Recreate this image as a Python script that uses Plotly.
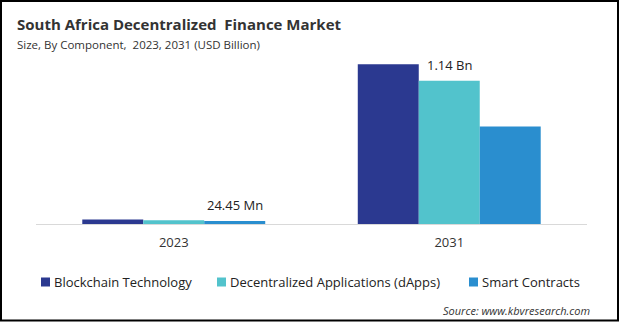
import plotly.graph_objects as go

years = ["2023", "2031"]
series_names = ["Blockchain Technology", "Decentralized Applications (dApps)", "Smart Contracts"]
blockchain = [0.036, 1.27]
dapps = [0.029, 1.14]
smart = [0.02445, 0.775]
# (series index, year index, label)
value_labels = [(2, 0, "24.45 Mn"), (1, 1, "1.14 Bn")]
colors = ["#2B3990", "#52C3CC", "#2A8ECF"]

W, H = 619, 322
L, R, T, B = 36, 32, 48, 98
PW, PH = W - L - R, H - T - B
BARGAP = 0.336

def px_x(px):
    return (px - L) / PW

def px_y(py):
    return (H - B - py) / PH

all_series = [blockchain, dapps, smart]
fig = go.Figure()
for name, vals, col in zip(series_names, all_series, colors):
    fig.add_trace(go.Bar(
        x=years, y=vals, name=name, marker=dict(color=col, line=dict(width=0)),
        hoverinfo="skip", showlegend=False,
    ))

# value labels above the chosen bars
bw = (1 - BARGAP) / len(all_series)
for si, yi, lab in value_labels:
    xoff = (si - (len(all_series) - 1) / 2) * bw
    fig.add_annotation(x=yi + xoff, y=all_series[si][yi], xref="x", yref="y", text=lab,
                       showarrow=False, yanchor="bottom", yshift=5,
                       font=dict(family="Open Sans, sans-serif", size=13, color="#222222"))

fig.update_layout(
    width=W, height=H,
    margin=dict(l=L, r=R, t=T, b=B),
    paper_bgcolor="white", plot_bgcolor="white",
    barmode="group", bargap=BARGAP, bargroupgap=0,
    showlegend=False,
    xaxis=dict(showline=True, linecolor="#D9D9D9", linewidth=1, ticks="",
               tickfont=dict(family="Open Sans, sans-serif", size=13, color="#333333"),
               showgrid=False, ticklabelstandoff=6),
    yaxis=dict(range=[0, 1.4], visible=False, showgrid=False, zeroline=False),
    font=dict(family="Open Sans, sans-serif"),
)

# legend drawn as squares + labels
legend_sq_x = [41, 217, 469]
for name, col, sx in zip(series_names, colors, legend_sq_x):
    fig.add_shape(type="rect", xref="paper", yref="paper",
                  x0=px_x(sx), x1=px_x(sx + 9), y0=px_y(286.5), y1=px_y(277.5),
                  line=dict(width=0), fillcolor=col)
    fig.add_annotation(text=name, xref="paper", yref="paper", x=px_x(sx + 11), y=px_y(282),
                       xanchor="left", yanchor="middle", showarrow=False,
                       font=dict(family="Open Sans, sans-serif", size=13, color="#222222"))

fig.add_annotation(text="<b>South Africa Decentralized  Finance Market</b>", xref="paper", yref="paper",
                   x=px_x(15), y=px_y(24), xanchor="left", yanchor="middle", showarrow=False,
                   font=dict(family="Open Sans, sans-serif", size=15, color="#333333"))
fig.add_annotation(text="Size, By Component,  2023, 2031 (USD Billion)", xref="paper", yref="paper",
                   x=px_x(15), y=px_y(44), xanchor="left", yanchor="middle", showarrow=False,
                   font=dict(family="Open Sans, sans-serif", size=11.5, color="#333333"))
fig.add_annotation(text="<i>Source: www.kbvresearch.com</i>", xref="paper", yref="paper",
                   x=px_x(592), y=px_y(310), xanchor="right", yanchor="middle", showarrow=False,
                   font=dict(family="Open Sans, sans-serif", size=11, color="#333333"))

fig.add_shape(type="rect", xref="paper", yref="paper",
              x0=px_x(1), x1=px_x(618), y0=px_y(320.5), y1=px_y(1),
              line=dict(color="black", width=2), fillcolor="rgba(0,0,0,0)", layer="above")

fig.write_html("out.html")
